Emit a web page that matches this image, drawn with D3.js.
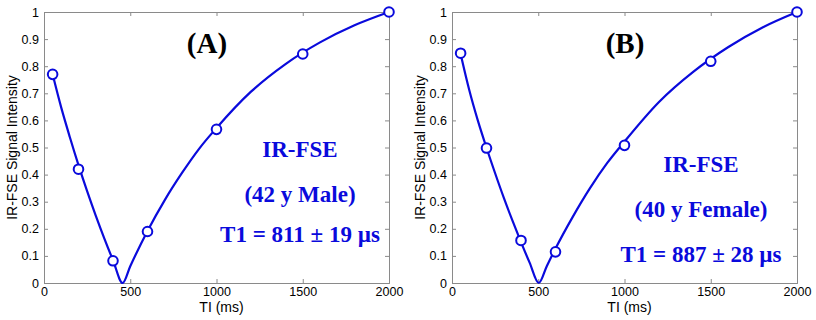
<!DOCTYPE html>
<html>
<head>
<meta charset="utf-8">
<script src="https://cdn.jsdelivr.net/npm/d3@7"></script>
<style>
  body { margin: 0; background: #fff; }
</style>
</head>
<body>
<div id="chart"></div>
<script>
// measured inversion times (ms)
const tiMeasured = [50, 200, 400, 600, 1000, 1500, 2000];
// normalised signal
const maleSignal = [0.77, 0.42, 0.082, 0.19, 0.567, 0.845, 1.0];
const femaleSignal = [0.848, 0.498, 0.157, 0.115, 0.508, 0.818, 1.0];

// fitted curves, sampled along TI
const maleCurveTI = [50, 100, 150, 200, 250, 300, 350, 400, 456, 500, 600, 700, 800, 900, 1000, 1200, 1400, 1600, 1800, 2000];
const maleCurve = [0.77, 0.647, 0.538, 0.435, 0.339, 0.249, 0.164, 0.084, 0, 0.062, 0.192, 0.306, 0.406, 0.496, 0.572, 0.706, 0.808, 0.888, 0.951, 1.0];
const femaleCurveTI = [50, 100, 150, 200, 250, 300, 350, 400, 450, 503, 550, 600, 700, 800, 900, 1000, 1200, 1400, 1600, 1800, 2000];
const femaleCurve = [0.845, 0.712, 0.599, 0.499, 0.405, 0.315, 0.231, 0.151, 0.075, 0, 0.063, 0.127, 0.244, 0.35, 0.443, 0.522, 0.668, 0.78, 0.87, 0.943, 1.0];

const xTicks = [0, 500, 1000, 1500, 2000];
const yTicks = [0, 0.1, 0.2, 0.3, 0.4, 0.5, 0.6, 0.7, 0.8, 0.9, 1];

const panels = [
  { left: 44, tag: "(A)", lines: ["IR-FSE", "(42 y Male)", "T1 = 811 \u00b1 19 \u00b5s"],
    textY: [157, 202, 242], textX: 300, tagX: 207,
    pts: maleSignal, cx: maleCurveTI, cy: maleCurve },
  { left: 452, tag: "(B)", lines: ["IR-FSE", "(40 y Female)", "T1 = 887 \u00b1 28 \u00b5s"],
    textY: [172, 217, 262], textX: 701, tagX: 625,
    pts: femaleSignal, cx: femaleCurveTI, cy: femaleCurve }
];

const width = 816, height = 320;
const plotW = 345, plotTop = 12, plotBottom = 283;
const axisColor = "#8a8a8a";
const blue = "#0a0adc";
const sans = "'Liberation Sans', Arial, sans-serif";
const serif = "'Liberation Serif', 'Times New Roman', serif";

const svg = d3.select("#chart").append("svg")
  .attr("width", width)
  .attr("height", height);

panels.forEach(p => {
  const x = d3.scaleLinear().domain([0, 2000]).range([p.left, p.left + plotW]);
  const y = d3.scaleLinear().domain([0, 1]).range([plotBottom, plotTop]);
  const g = svg.append("g");

  // axes, MATLAB style: ticks inside, box around
  g.append("g").attr("transform", `translate(0,${plotBottom})`)
    .call(d3.axisBottom(x).tickValues(xTicks).tickSize(-4).tickPadding(4).tickFormat(d3.format("d")));
  g.append("g").attr("transform", `translate(${p.left},0)`)
    .call(d3.axisLeft(y).tickValues(yTicks).tickSize(-4).tickPadding(5).tickFormat(d => d === 0 || d === 1 ? d : d3.format(".1f")(d)));
  g.append("g").attr("transform", `translate(0,${plotTop})`)
    .call(d3.axisTop(x).tickValues(xTicks).tickSize(-4).tickFormat(""));
  g.append("g").attr("transform", `translate(${p.left + plotW},0)`)
    .call(d3.axisRight(y).tickValues(yTicks).tickSize(-4).tickFormat(""));

  g.selectAll(".domain").attr("stroke", axisColor).attr("stroke-width", 1);
  g.selectAll(".tick line").attr("stroke", axisColor);
  g.selectAll(".tick text").attr("fill", "#000")
    .style("font-size", "12.5px")
    .style("font-family", sans);

  // fit curve
  const line = d3.line()
    .x((d, i) => x(p.cx[i]))
    .y(d => y(d))
    .curve(d3.curveMonotoneX);
  g.append("path")
    .datum(p.cy)
    .attr("d", line)
    .attr("fill", "none")
    .attr("stroke", blue)
    .attr("stroke-width", 2.2);

  // measured points
  g.selectAll("circle.pt")
    .data(p.pts)
    .enter()
    .append("circle")
    .attr("class", "pt")
    .attr("cx", (d, i) => x(tiMeasured[i]))
    .attr("cy", d => y(d))
    .attr("r", 4.8)
    .attr("fill", "#fff")
    .attr("stroke", blue)
    .attr("stroke-width", 2);

  // axis titles
  g.append("text")
    .attr("transform", `translate(${p.left - 27},${(plotTop + plotBottom) / 2}) rotate(-90)`)
    .attr("text-anchor", "middle")
    .style("font-family", sans)
    .style("font-size", "14px")
    .text("IR-FSE Signal Intensity");
  g.append("text")
    .attr("x", p.left + plotW / 2 + 5)
    .attr("y", 312)
    .attr("text-anchor", "middle")
    .style("font-family", sans)
    .style("font-size", "14px")
    .text("TI (ms)");

  // annotations
  g.append("text")
    .attr("x", p.tagX).attr("y", 53)
    .attr("text-anchor", "middle")
    .style("font-family", serif)
    .style("font-weight", "bold")
    .style("font-size", "29px")
    .text(p.tag);

  g.selectAll("text.note")
    .data(p.lines)
    .enter()
    .append("text")
    .attr("class", "note")
    .attr("x", p.textX)
    .attr("y", (d, i) => p.textY[i])
    .attr("text-anchor", "middle")
    .style("font-family", serif)
    .style("font-weight", "bold")
    .style("font-size", "23px")
    .attr("fill", blue)
    .text(d => d);
});
</script>
</body>
</html>
